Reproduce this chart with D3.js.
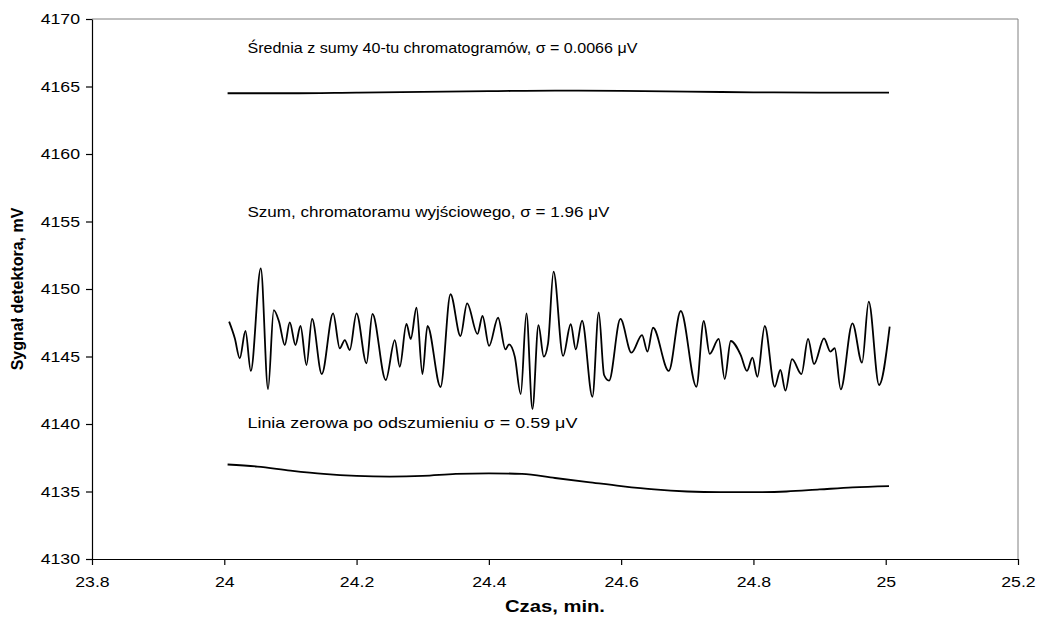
<!DOCTYPE html>
<html><head><meta charset="utf-8">
<script src="https://cdn.jsdelivr.net/npm/d3@7"></script>
<style>
body{margin:0;background:#fff;}
text{font-family:Arial,"Liberation Sans",sans-serif;}
</style></head>
<body><svg id="c" width="1039" height="620"></svg>
<script>
// Data
const xTicks = [23.8, 24, 24.2, 24.4, 24.6, 24.8, 25, 25.2];
const yTicks = [4130, 4135, 4140, 4145, 4150, 4155, 4160, 4165, 4170];

const noiseX = [24.0073,24.0159,24.0234,24.0320,24.0401,24.0552,24.0662,24.0748,24.0828,24.0915,24.0990,24.1076,24.1152,24.1243,24.1327,24.1474,24.1645,24.1746,24.1822,24.1897,24.1999,24.2150,24.2240,24.2441,24.2578,24.2653,24.2754,24.2819,24.2906,24.2996,24.3072,24.3270,24.3420,24.3571,24.3671,24.3828,24.3904,24.4003,24.4139,24.4251,24.4305,24.4392,24.4482,24.4568,24.4659,24.4750,24.4830,24.4895,24.4978,24.5122,24.5238,24.5314,24.5409,24.5566,24.5661,24.5742,24.5817,24.5989,24.6156,24.6316,24.6398,24.6482,24.6720,24.6901,24.7138,24.7249,24.7339,24.7475,24.7566,24.7657,24.7808,24.7903,24.7985,24.8060,24.8171,24.8322,24.8408,24.8484,24.8584,24.8726,24.8826,24.8916,24.9067,24.9164,24.9229,24.9320,24.9497,24.9642,24.9743,24.9899,25.0060];
const noiseY = [4147.58,4146.35,4144.87,4146.89,4143.93,4151.53,4142.59,4148.44,4147.58,4145.85,4147.53,4145.85,4147.26,4144.37,4147.78,4143.70,4148.20,4145.61,4146.22,4145.48,4148.20,4144.50,4148.15,4143.26,4146.22,4144.24,4147.41,4146.30,4148.61,4143.70,4147.26,4142.74,4149.61,4146.52,4148.94,4146.67,4148.00,4145.78,4147.87,4145.53,4145.90,4144.99,4142.22,4148.20,4141.11,4147.33,4144.99,4145.98,4151.28,4145.04,4147.39,4145.53,4147.65,4142.02,4148.27,4143.63,4143.21,4147.78,4145.28,4146.59,4145.36,4147.13,4143.93,4148.37,4142.76,4147.63,4145.19,4146.30,4143.33,4146.15,4145.11,4143.93,4144.91,4143.50,4147.26,4142.76,4144.00,4142.47,4144.81,4143.70,4146.30,4144.44,4146.35,4145.36,4145.61,4142.57,4147.46,4144.54,4149.06,4142.89,4147.21];

const avgX = [24.005,24.1,24.2,24.3,24.4,24.5,24.6,24.7,24.8,24.9,25.005];
const avgY = [4164.5,4164.5,4164.55,4164.6,4164.65,4164.7,4164.68,4164.62,4164.57,4164.55,4164.55];

const baseX = [24.005,24.05,24.1,24.15,24.2,24.25,24.3,24.35,24.4,24.45,24.5,24.55,24.6,24.65,24.7,24.75,24.8,24.85,24.9,24.95,25.005];
const baseY = [4137.0,4136.85,4136.55,4136.3,4136.15,4136.1,4136.15,4136.3,4136.35,4136.3,4136.0,4135.7,4135.4,4135.15,4135.0,4134.95,4134.95,4135.0,4135.15,4135.3,4135.4];

const labelTexts = ["Średnia z sumy 40-tu chromatogramów, σ = 0.0066 μV",
                    "Szum, chromatoramu wyjściowego, σ = 1.96 μV",
                    "Linia zerowa po odszumieniu σ = 0.59 μV"];
const labelX = [24.035, 24.035, 24.035];
const labelY = [4167.85, 4155.7, 4140.1];

const SX = 1.18; // horizontal stretch of the reference's tick text
const svg = d3.select("#c");
const L=92, R=1018, T=19, B=559;
const x = d3.scaleLinear().domain([23.8,25.2]).range([L,R]);
const y = d3.scaleLinear().domain([4130,4170]).range([B,T]);

// frame
svg.append("line").attr("x1",L).attr("x2",R).attr("y1",T).attr("y2",T).attr("stroke","#808080").attr("stroke-width",1);
svg.append("line").attr("x1",R).attr("x2",R).attr("y1",T).attr("y2",B).attr("stroke","#808080").attr("stroke-width",1);

const xAxis = svg.append("g").attr("transform",`translate(0,${B})`)
  .call(d3.axisBottom(x).tickValues(xTicks).tickSize(6).tickSizeOuter(0).tickFormat(d=>String(+d.toFixed(1))));
const yAxis = svg.append("g").attr("transform",`translate(${L},0)`)
  .call(d3.axisLeft(y).tickValues(yTicks).tickSize(6).tickSizeOuter(0).tickFormat(d3.format("d")));
[xAxis,yAxis].forEach(g=>{
  g.selectAll("path,line").attr("stroke","#000").attr("stroke-width",1.2);
  g.selectAll("text").attr("font-size",15).attr("fill","#000").attr("font-family","Arial,'Liberation Sans',sans-serif");
});
xAxis.selectAll("text").attr("dy","1.3em").attr("transform",`scale(${SX},1)`);
yAxis.selectAll("text").attr("x",-12/SX).attr("transform",`scale(${SX},1)`);

const line = d3.line().x(d=>x(d[0])).y(d=>y(d[1])).curve(d3.curveMonotoneX);
const series = [d3.zip(avgX,avgY), d3.zip(noiseX,noiseY), d3.zip(baseX,baseY)];
series.forEach(s=>{
  svg.append("path").datum(s).attr("d",line).attr("fill","none").attr("stroke","#000").attr("stroke-width",1.8);
});

const labelWidth = [390, 362, 330];
labelTexts.forEach((t,i)=>{
  svg.append("text").attr("x",x(labelX[i])).attr("y",y(labelY[i]))
    .attr("dy","0.35em").attr("font-size",15).attr("fill","#000")
    .attr("textLength",labelWidth[i]).attr("lengthAdjust","spacingAndGlyphs").text(t);
});

svg.append("text").attr("x",(L+R)/2).attr("y",612).attr("text-anchor","middle")
  .attr("font-size",16).attr("font-weight","bold")
  .attr("textLength",100).attr("lengthAdjust","spacingAndGlyphs").text("Czas, min.");
svg.append("text").attr("transform",`translate(23,${(T+B)/2}) rotate(-90)`).attr("text-anchor","middle")
  .attr("font-size",16).attr("font-weight","bold").text("Sygnał detektora, mV");
</script></body></html>
